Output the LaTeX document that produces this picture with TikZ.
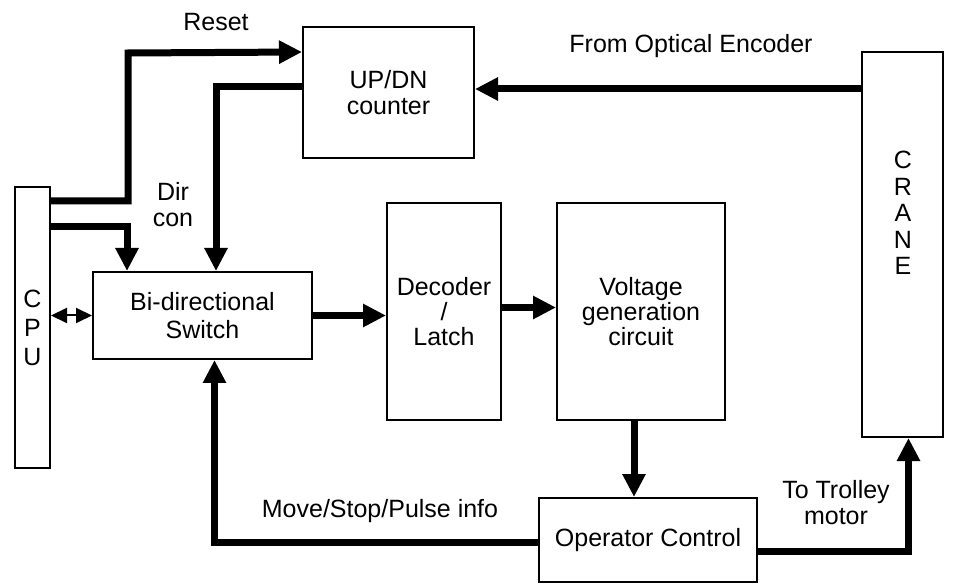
\documentclass[tikz,border=0pt]{standalone}
\usepackage{fontspec}
\setmainfont{Liberation Sans}
\usetikzlibrary{arrows.meta,positioning,calc}

\begin{document}
\begin{tikzpicture}[
    x=0.5pt, y=-0.5pt,
    font=\fontsize{12.5}{13}\selectfont,
    block/.style={rectangle, draw, line width=1pt, align=center, inner sep=0pt},
    bus/.style={line width=3.5pt, -{Triangle[length=11.5pt, width=11pt]}},
    link/.style={line width=1pt, {Triangle[length=8pt, width=7.5pt]}-{Triangle[length=8pt, width=7.5pt]}},
    tag/.style={align=center, inner sep=0pt}
  ]
  \useasboundingbox (0,0) rectangle (955,583);

  % Blocks
  \node[block, minimum width=17.5pt, minimum height=140.5pt, font=\fontsize{12.5}{14.5}\selectfont] (cpu) at (32.5,327.5) {C\\P\\U};
  \node[block, minimum width=109.5pt, minimum height=43.5pt, font=\fontsize{12.5}{14}\selectfont] (switch) at (202.5,315.5) {Bi-directional\\Switch};
  \node[block, minimum width=85.5pt, minimum height=65.5pt] (counter) at (388.5,92.5) {UP/DN\\counter};
  \node[block, minimum width=57pt, minimum height=108.5pt, font=\fontsize{12.5}{12.5}\selectfont] (decoder) at (444,311.5) {Decoder\\/\\Latch};
  \node[block, minimum width=84pt, minimum height=108.5pt, font=\fontsize{12.5}{12.5}\selectfont] (voltage) at (641,311.5) {Voltage\\generation\\circuit};
  \node[block, minimum width=40.5pt, minimum height=192.5pt] (crane) at (902.5,244.5) {};
  \node[tag, font=\fontsize{12.5}{13.25}\selectfont] (cranetxt) at (903,213) {C\\R\\A\\N\\E};
  \node[block, minimum width=109pt, minimum height=42pt] (operator) at (648,540) {Operator Control};

  % Signals
  \draw[bus] ($(cpu.north east)+(0,15)$) -| (128,53) -- ($(counter.north west)+(0,26)$);
  \draw[bus] ($(cpu.north east)+(0,41)$) -| ($(switch.north west)+(35,0)$);
  \draw[bus] ($(counter.north west)+(0,61)$) -| ($(switch.north west)+(124,0)$);
  \draw[link] (cpu.east |- switch.west) -- (switch.west);
  \draw[bus] (switch.east) -- (switch.east -| decoder.west);
  \draw[bus] ($(decoder.east)+(0,-4)$) -- ($(voltage.west)+(0,-4)$);
  \draw[bus] ($(voltage.south)+(-7,0)$) -- ($(operator.north)+(-14,0)$);
  \draw[bus] ($(crane.north west)+(0,38)$) -- ($(counter.north east)+(0,63)$);
  \draw[bus] ($(operator.east)+(0,11)$) -| ($(crane.south)+(6,0)$);
  \draw[bus] ($(operator.west)+(0,2)$) -| ($(switch.south)+(12,0)$);

  % Labels
  \node[tag] (reset) at (216,22) {Reset};
  \node[tag] (dircon) at (173,205) {Dir\\con};
  \node[tag] (encoder) at (691,46) {From Optical Encoder};
  \node[tag] (info) at (380,511) {Move/Stop/Pulse info};
  \node[tag] (trolley) at (836,503) {To Trolley\\motor};
\end{tikzpicture}
\end{document}
